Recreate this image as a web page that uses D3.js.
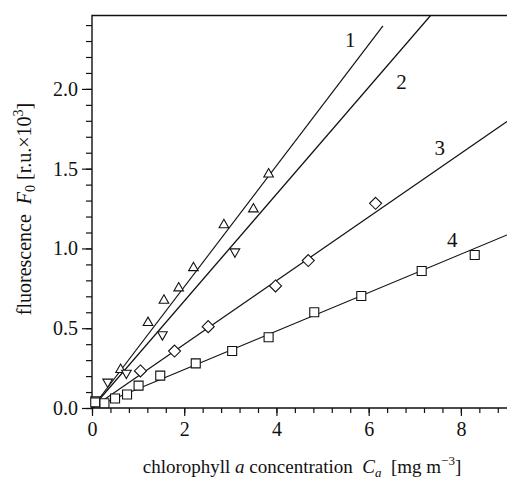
<!DOCTYPE html>
<html>
<head>
<meta charset="utf-8">
<script src="https://cdn.jsdelivr.net/npm/d3@7"></script>
<style>
  html, body { margin: 0; padding: 0; background: #fff; }
  svg { display: block; font-family: "Liberation Serif", "Times New Roman", serif; }
  text { white-space: pre; }
</style>
</head>
<body>
<svg id="chart" width="507" height="481"></svg>
<script>
// Chlorophyll a concentration (mg m^-3) and fluorescence F0 (r.u. x 10^3)
const s1x = [0.62, 1.215, 1.56, 1.88, 2.20, 2.86, 3.50, 3.83];
const s1y = [0.243, 0.537, 0.677, 0.754, 0.881, 1.150, 1.249, 1.468];
const s2x = [0.08, 0.34, 0.746, 1.527, 3.10];
const s2y = [0.05, 0.161, 0.217, 0.458, 0.977];
const s3x = [1.05, 1.79, 2.52, 3.98, 4.69, 6.15];
const s3y = [0.232, 0.357, 0.510, 0.765, 0.924, 1.283];
const s4x = [0.07, 0.27, 0.50, 0.76, 1.01, 1.48, 2.25, 3.04, 3.83, 4.82, 5.84, 7.15, 8.30];
const s4y = [0.035, 0.030, 0.060, 0.085, 0.140, 0.203, 0.280, 0.357, 0.443, 0.600, 0.702, 0.859, 0.959];

// linear fits through the origin: slope and the concentration where each line stops
const fitSlope = [0.3795, 0.335, 0.1995, 0.1205];
const fitEnd = [6.31, 7.35, 9, 9];
const fitLabels = ["1", "2", "3", "4"];
const fitLabelX = [5.60, 6.71, 7.54, 7.81];
const fitLabelY = [2.307, 2.046, 1.63, 1.053];

const markerKinds = ["triangle-up", "triangle-down", "diamond", "square"];

const xMajorTicks = [0, 2, 4, 6, 8];
const yMajorTicks = [0, 0.5, 1.0, 1.5, 2.0];

const svg = d3.select("#chart");
const M = { left: 92, top: 15.5, right: 507, bottom: 408 };

const x = d3.scaleLinear().domain([0, 9]).range([M.left, M.right]);
const y = d3.scaleLinear().domain([0, 2.46]).range([M.bottom, M.top]);

const ink = "#111";

// minor ticks
const xMinor = d3.range(0, 9.0001, 0.4).map(v => +v.toFixed(2));
const yMinor = d3.range(0, 2.4001, 0.1).map(v => +v.toFixed(2));

svg.append("g")
  .attr("transform", `translate(0,${M.bottom})`)
  .call(d3.axisBottom(x).tickValues(xMinor).tickSize(5).tickFormat(""))
  .call(g => g.select(".domain").remove())
  .selectAll("line").attr("stroke", ink).attr("stroke-width", 1.2);

svg.append("g")
  .attr("transform", `translate(${M.left},0)`)
  .call(d3.axisLeft(y).tickValues(yMinor).tickSize(6).tickFormat(""))
  .call(g => g.select(".domain").remove())
  .selectAll("line").attr("stroke", ink).attr("stroke-width", 1.2);

// major ticks with labels
const xAxis = svg.append("g")
  .attr("transform", `translate(0,${M.bottom})`)
  .call(d3.axisBottom(x).tickValues(xMajorTicks).tickSize(8).tickPadding(6).tickFormat(d3.format("d")));
xAxis.select(".domain").remove();
xAxis.selectAll("line").attr("stroke", ink).attr("stroke-width", 1.2);
xAxis.selectAll("text").attr("fill", ink).style("font-size", "20px")
  .style("font-family", "Liberation Serif, serif");

const yAxis = svg.append("g")
  .attr("transform", `translate(${M.left},0)`)
  .call(d3.axisLeft(y).tickValues(yMajorTicks).tickSize(10).tickPadding(4).tickFormat(d3.format(".1f")));
yAxis.select(".domain").remove();
yAxis.selectAll("line").attr("stroke", ink).attr("stroke-width", 1.2);
yAxis.selectAll("text").attr("fill", ink).style("font-size", "20px")
  .style("font-family", "Liberation Serif, serif");

// frame: left, bottom and top edges
svg.append("path")
  .attr("d", `M${M.right},${M.top}H${M.left}V${M.bottom}H${M.right}`)
  .attr("fill", "none").attr("stroke", ink).attr("stroke-width", 1.4);

// fitted lines
const plot = svg.append("g");
fitSlope.forEach((k, i) => {
  const xe = Math.min(fitEnd[i], 2.46 / k);
  plot.append("line")
    .attr("x1", x(0)).attr("y1", y(0))
    .attr("x2", x(xe)).attr("y2", y(k * xe))
    .attr("stroke", ink).attr("stroke-width", 1.2);
  plot.append("text")
    .attr("x", x(fitLabelX[i])).attr("y", y(fitLabelY[i]))
    .attr("text-anchor", "middle").attr("dy", "0.35em")
    .style("font-size", "21px").attr("fill", ink)
    .text(fitLabels[i]);
});

// markers
const series = [[s1x, s1y], [s2x, s2y], [s3x, s3y], [s4x, s4y]];
function markerPath(kind) {
  if (kind === "triangle-up") return "M0,-5.2L4.8,3.2L-4.8,3.2Z";
  if (kind === "triangle-down") return "M0,5.2L4.8,-3.2L-4.8,-3.2Z";
  if (kind === "diamond") return "M0,-6L6,0L0,6L-6,0Z";
  return "M-4.5,-4.5H4.5V4.5H-4.5Z";
}
series.forEach(([xs, ys], i) => {
  plot.append("g").selectAll("path")
    .data(xs.map((v, j) => [v, ys[j]]))
    .join("path")
    .attr("transform", d => `translate(${x(d[0])},${y(d[1])})`)
    .attr("d", markerPath(markerKinds[i]))
    .attr("fill", "#fff").attr("stroke", ink).attr("stroke-width", 1.1);
});

// axis titles
const xt = svg.append("text")
  .attr("x", 302).attr("y", 473)
  .attr("text-anchor", "middle")
  .style("font-size", "19px").attr("fill", ink);
xt.append("tspan").text("chlorophyll ");
xt.append("tspan").style("font-style", "italic").text("a");
xt.append("tspan").text(" concentration  ");
xt.append("tspan").style("font-style", "italic").text("C");
xt.append("tspan").style("font-style", "italic").style("font-size", "13px").attr("dy", 4).text("a");
xt.append("tspan").attr("dy", -4).text("  [mg m");
xt.append("tspan").style("font-size", "13px").attr("dy", -8).text("\u22123");
xt.append("tspan").attr("dy", 8).text("]");

const yt = svg.append("text")
  .attr("transform", "translate(31,209) rotate(-90)")
  .attr("text-anchor", "middle")
  .style("font-size", "20px").attr("fill", ink);
yt.append("tspan").text("fluorescence  ");
yt.append("tspan").style("font-style", "italic").text("F");
yt.append("tspan").style("font-size", "14px").attr("dy", 4).text("0");
yt.append("tspan").attr("dy", -4).text(" [r.u.\u00d710");
yt.append("tspan").style("font-size", "14px").attr("dy", -8).text("3");
yt.append("tspan").attr("dy", 8).text("]");
</script>
</body>
</html>
